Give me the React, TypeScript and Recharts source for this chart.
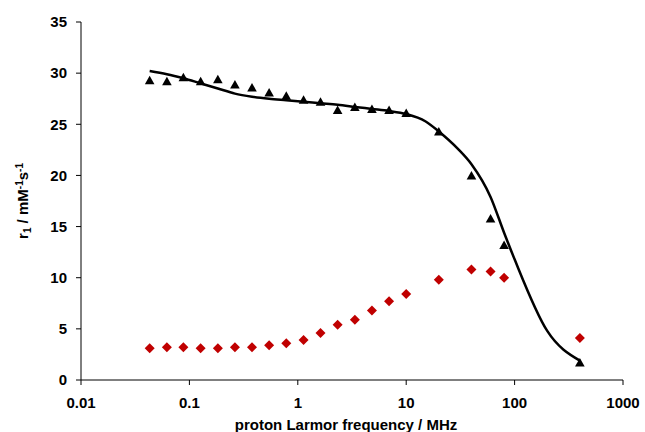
import React from 'react';
import { ComposedChart, Scatter, Line, XAxis, YAxis, Label } from 'recharts';

// measured frequencies (MHz)
const freqs = [
  0.043, 0.062, 0.088, 0.127, 0.183, 0.263, 0.378, 0.544, 0.783, 1.13, 1.62, 2.33, 3.36, 4.83,
  6.95, 10, 20, 40, 60, 80, 400,
];
// r1 of the black triangles
const r1Triangles = [
  29.3, 29.2, 29.6, 29.2, 29.4, 28.9, 28.6, 28.1, 27.8, 27.4, 27.2, 26.4, 26.7, 26.5, 26.4, 26.1,
  24.3, 20.0, 15.8, 13.2, 1.7,
];
// r1 of the red diamonds
const r1Diamonds = [
  3.1, 3.2, 3.2, 3.1, 3.1, 3.2, 3.2, 3.4, 3.6, 3.9, 4.6, 5.4, 5.9, 6.8, 7.7, 8.4, 9.8, 10.8, 10.6,
  10.0, 4.1,
];
// fitted curve
const fitFreqs = [
  0.043, 0.062, 0.088, 0.127, 0.183, 0.263, 0.378, 0.544, 0.783, 1.13, 1.62, 2.33, 3.36, 4.83,
  6.95, 10, 15, 20, 30, 40, 60, 80, 100, 200, 400,
];
const fitR1 = [
  30.2, 29.9, 29.5, 29.0, 28.5, 28.0, 27.7, 27.5, 27.35, 27.2, 27.05, 26.9, 26.7, 26.5, 26.3, 26.0,
  25.3, 24.3, 22.6, 21.1, 17.9, 14.4, 11.8, 4.8, 1.9,
];

const xTicks = [0.01, 0.1, 1, 10, 100, 1000];
const yTicks = [0, 5, 10, 15, 20, 25, 30, 35];

const triangleData = freqs.map((f, i) => ({ f, r: r1Triangles[i] }));
const diamondData = freqs.map((f, i) => ({ f, r: r1Diamonds[i] }));
const fitData = fitFreqs.map((f, i) => ({ f, r: fitR1[i] }));

const FONT = '"Liberation Sans", Arial, sans-serif';

const TriangleShape = (props: any) => {
  const { cx, cy } = props;
  return (
    <polygon
      points={`${cx},${cy - 4.5} ${cx + 4.8},${cy + 4} ${cx - 4.8},${cy + 4}`}
      fill="#000"
    />
  );
};

const DiamondShape = (props: any) => {
  const { cx, cy } = props;
  return (
    <polygon
      points={`${cx},${cy - 5} ${cx + 5},${cy} ${cx},${cy + 5} ${cx - 5},${cy}`}
      fill="#C00000"
    />
  );
};

const XLabel = (props: any) => {
  const vb = props.viewBox || {};
  return (
    <text
      x={vb.x + vb.width / 2 - 6}
      y={430}
      textAnchor="middle"
      fontSize={15}
      fontWeight="bold"
      fontFamily={FONT}
      fill="#000"
    >
      proton Larmor frequency / MHz
    </text>
  );
};

const YLabel = (props: any) => {
  const vb = props.viewBox || {};
  const cy = vb.y + vb.height / 2;
  return (
    <text
      x={28}
      y={cy}
      transform={`rotate(-90, 28, ${cy})`}
      textAnchor="middle"
      fontSize={15}
      fontWeight="bold"
      fontFamily={FONT}
      fill="#000"
    >
      r<tspan dy={3} fontSize={10}>1</tspan>
      <tspan dy={-3}> / mM</tspan>
      <tspan dy={-5} fontSize={10}>-1</tspan>
      <tspan dy={5}>s</tspan>
      <tspan dy={-5} fontSize={10}>-1</tspan>
    </text>
  );
};

export default function App() {
  return (
    <div style={{ width: 645, height: 432 }}>
      <style>{`body{margin:0}`}</style>
      <ComposedChart
        width={645}
        height={432}
        margin={{ top: 22, right: 22, left: 0, bottom: 22 }}
        style={{ fontFamily: FONT }}
      >
        <XAxis
          type="number"
          dataKey="f"
          scale="log"
          domain={[0.01, 1000]}
          ticks={xTicks}
          allowDataOverflow
          height={30}
          tickSize={5}
          tickMargin={12}
          tickFormatter={(v: number) => String(v)}
          stroke="#000"
          tick={{ fill: '#000', fontSize: 15, fontWeight: 'bold', fontFamily: FONT }}
        >
          <Label content={<XLabel />} />
        </XAxis>
        <YAxis
          type="number"
          dataKey="r"
          domain={[0, 35]}
          ticks={yTicks}
          width={81}
          tickSize={5}
          tickMargin={9}
          stroke="#000"
          tick={{ fill: '#000', fontSize: 15, fontWeight: 'bold', fontFamily: FONT }}
        >
          <Label content={<YLabel />} />
        </YAxis>
        <Line
          data={fitData}
          dataKey="r"
          type="monotone"
          stroke="#000"
          strokeWidth={2.5}
          dot={false}
          activeDot={false}
          isAnimationActive={false}
        />
        <Scatter data={triangleData} dataKey="r" shape={<TriangleShape />} isAnimationActive={false} />
        <Scatter data={diamondData} dataKey="r" shape={<DiamondShape />} isAnimationActive={false} />
      </ComposedChart>
    </div>
  );
}
